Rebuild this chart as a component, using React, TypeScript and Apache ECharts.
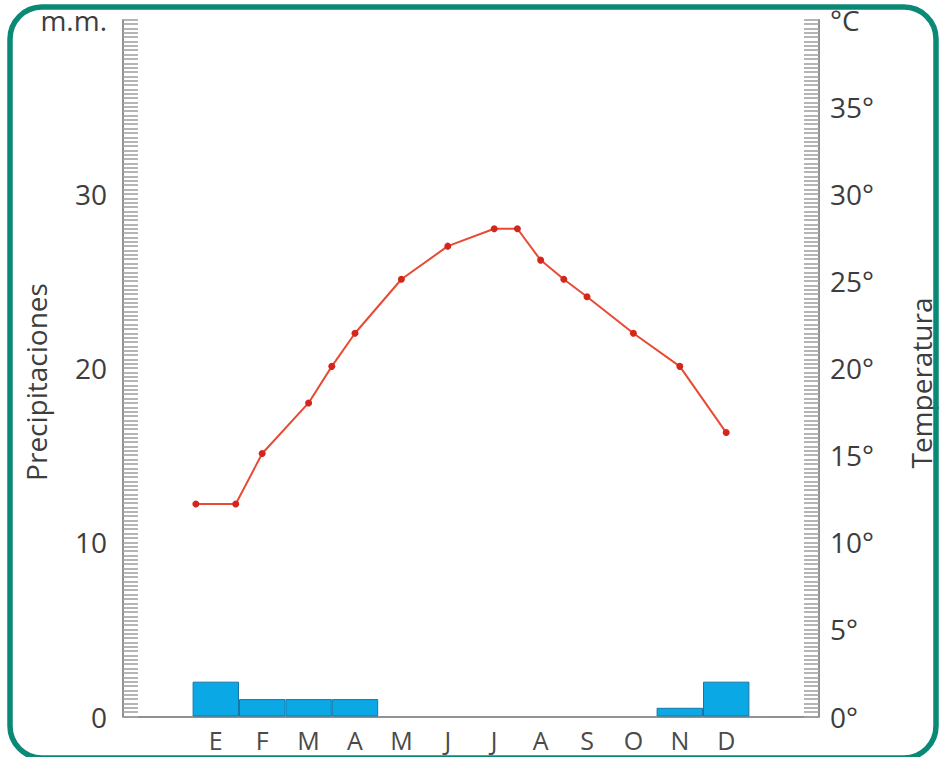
import React, { useEffect, useRef } from "react";
import * as echarts from "echarts";

const months = ["E", "F", "M", "A", "M", "J", "J", "A", "S", "O", "N", "D"];
const precipitation = [2, 1, 1, 1, 0, 0, 0, 0, 0, 0, 0.5, 2];
// temperature readings: position along the month axis (0 = E) and value in °C
const tempPositions = [-0.43, 0.43, 1, 2, 2.5, 3, 4, 5, 6, 6.5, 7, 7.5, 8, 9, 10, 11];
const tempValues = [12.2, 12.2, 15.1, 18, 20.1, 22, 25.1, 27, 28, 28, 26.2, 25.1, 24.1, 22, 20.1, 16.3];
const precipTicks = [0, 10, 20, 30];
const tempTicks = [0, 5, 10, 15, 20, 25, 30, 35];

const FONT = "Open Sans";
const TEXT = "#3d3d3d";

export default function App() {
  const ref = useRef<HTMLDivElement>(null);
  useEffect(() => {
    if (!ref.current) return;
    const chart = echarts.init(ref.current, null, { renderer: "svg" });
    const gridLeft = 123;
    const gridRight = 120;
    const gridWidth = 939 - gridLeft - gridRight;
    const unit = gridWidth / 15;
    const barData = precipitation
      .map((v, i) => [i, v])
      .filter((d) => d[1] > 0);
    const lineData = tempPositions.map((x, i) => [x, tempValues[i]]);
    const rung = { color: "#a3a3a3", width: 1.6 };
    chart.setOption({
      animation: false,
      backgroundColor: "#ffffff",
      textStyle: { fontFamily: FONT },
      grid: { left: gridLeft, right: gridRight, top: 19.7, bottom: 40.5, containLabel: false },
      xAxis: {
        type: "value",
        min: -2,
        max: 13,
        interval: 1,
        axisLine: { show: true, onZero: false, lineStyle: { color: "#6e6e6e", width: 1.5 } },
        axisTick: { show: false },
        splitLine: { show: false },
        axisLabel: {
          margin: 12,
          fontSize: 25,
          lineHeight: 22,
          color: "#4a4a4a",
          fontFamily: FONT,
          formatter: (v: number) => (Number.isInteger(v) && v >= 0 && v < months.length ? months[v] : ""),
        },
      },
      yAxis: [
        {
          type: "value",
          position: "left",
          min: 0,
          max: 40,
          interval: 10,
          axisLine: { show: true, onZero: false, lineStyle: { color: "#6e6e6e", width: 1.5 } },
          axisTick: { show: true, inside: true, length: 15, lineStyle: rung },
          minorTick: { show: true, splitNumber: 40, length: 15, lineStyle: rung },
          splitLine: { show: false },
          axisLabel: {
            margin: 16,
            fontSize: 28,
            color: TEXT,
            fontFamily: FONT,
            formatter: (v: number) => (v === 40 ? "m.m." : precipTicks.includes(v) ? String(v) : ""),
          },
        },
        {
          type: "value",
          position: "right",
          min: 0,
          max: 40,
          interval: 5,
          axisLine: { show: true, onZero: false, lineStyle: { color: "#6e6e6e", width: 1.5 } },
          axisTick: { show: true, inside: true, length: 15, lineStyle: rung },
          minorTick: { show: true, splitNumber: 20, length: 15, lineStyle: rung },
          splitLine: { show: false },
          axisLabel: {
            margin: 11,
            fontSize: 28,
            color: TEXT,
            fontFamily: FONT,
            formatter: (v: number) => (v === 40 ? "°C" : tempTicks.includes(v) ? v + "°" : ""),
          },
        },
      ],
      series: [
        {
          type: "bar",
          data: barData,
          barWidth: unit,
          yAxisIndex: 0,
          itemStyle: { color: "#0ba8e6", borderColor: "#1677a6", borderWidth: 1 },
        },
        {
          type: "line",
          data: lineData,
          yAxisIndex: 1,
          symbol: "circle",
          symbolSize: 7,
          lineStyle: { color: "#e84a33", width: 2 },
          itemStyle: { color: "#d3261d" },
          z: 5,
        },
      ],
      graphic: [
        {
          type: "rect",
          shape: { x: 10, y: 7, width: 926, height: 751, r: 32 },
          style: { fill: "none", stroke: "#0a8a76", lineWidth: 5.5 },
          z: 10,
        },
        {
          type: "text",
          x: 36,
          y: 382,
          rotation: Math.PI / 2,
          style: {
            text: "Precipitaciones",
            fontSize: 28,
            fontFamily: FONT,
            fill: TEXT,
            align: "center",
            verticalAlign: "middle",
          },
        },
        {
          type: "text",
          x: 921,
          y: 383,
          rotation: Math.PI / 2,
          style: {
            text: "Temperatura",
            fontSize: 28,
            fontFamily: FONT,
            fill: TEXT,
            align: "center",
            verticalAlign: "middle",
          },
        },
      ],
    });
    return () => chart.dispose();
  }, []);
  return (
    <div
      ref={ref}
      style={{ position: "fixed", left: 0, top: 0, width: 939, height: 757 }}
    />
  );
}
